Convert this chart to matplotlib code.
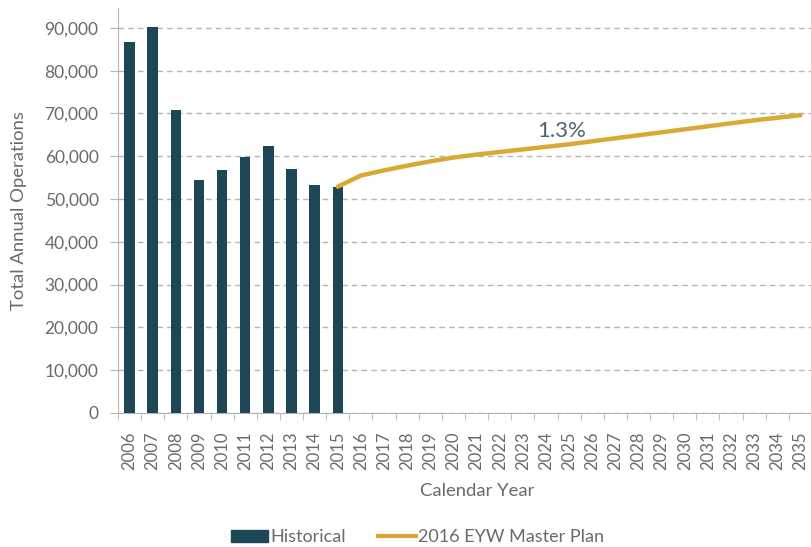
import matplotlib.pyplot as plt
import matplotlib.patches as mpatches
import matplotlib.lines as mlines
import numpy as np

plt.rcParams['font.family'] = ['Lato', 'DejaVu Sans']

years = [str(y) for y in range(2006, 2036)]
hist_years = years[:10]
hist_ops = [86700, 90300, 70700, 54500, 56800, 59900, 62400, 57000, 53200, 52900]
plan_years = years[9:]
plan_ops = [52900, 55500, 56700, 57800, 58800, 59700, 60400, 61000, 61600, 62200,
            62800, 63500, 64200, 64900, 65600, 66300, 67000, 67700, 68400, 69000, 69600]

bar_color = '#1d4657'
line_color = '#d8a934'
text_color = '#6a6a6a'
grid_color = '#b5b5b5'

fig = plt.figure(figsize=(8.12, 5.47), dpi=100)
ax = fig.add_axes([0.1453, 0.245, 0.8547, 0.74])

x = np.arange(len(years))
idx = {y: i for i, y in enumerate(years)}
ax.bar([idx[y] for y in hist_years], hist_ops, width=0.45, color=bar_color, zorder=3)
ax.plot([idx[y] for y in plan_years], plan_ops, color=line_color, lw=3.2, zorder=4,
        solid_capstyle='round')

ax.text(18.67, 66000, '1.3%', color='#4d6470', fontsize=16, ha='center', va='center')

ax.set_xlim(-0.5, 29.27)
ax.set_ylim(0, 94600)
ax.set_yticks(np.arange(0, 90001, 10000))
ax.set_yticklabels([f'{v:,}' for v in range(0, 90001, 10000)])
ax.set_xticks(x)
ax.set_xticklabels(years, rotation=90)
ax.set_xticks(np.arange(-0.5, 29.6, 1), minor=True)
ax.tick_params(axis='x', which='major', length=0, pad=13, labelsize=12, labelcolor=text_color)
ax.tick_params(axis='x', which='minor', length=5, color=grid_color)
ax.tick_params(axis='y', length=6, pad=8, color=grid_color, labelsize=12.5, labelcolor=text_color)

ax.yaxis.grid(True, linestyle=(0, (4, 3)), color=grid_color, lw=1, zorder=0)
for s in ['top', 'right']:
    ax.spines[s].set_visible(False)
for s in ['left', 'bottom']:
    ax.spines[s].set_color(grid_color)

ax.set_ylabel('Total Annual Operations', color=text_color, fontsize=13.3)
ax.yaxis.set_label_coords(-0.131, 0.5)
ax.set_xlabel('Calendar Year', color=text_color, fontsize=13.3)
ax.xaxis.set_label_coords(0.517, -0.173)

h1 = mpatches.Patch(color=bar_color, label='Historical')
h2 = mlines.Line2D([], [], color=line_color, lw=3, label='2016 EYW Master Plan')
fig.legend(handles=[h1, h2], loc='center', bbox_to_anchor=(0.514, 0.018), ncol=2,
           frameon=False, fontsize=13, labelcolor=text_color, handlelength=2.1,
           handleheight=0.6, handletextpad=0.1, columnspacing=1.8)

fig.savefig('out.png', dpi=100)
